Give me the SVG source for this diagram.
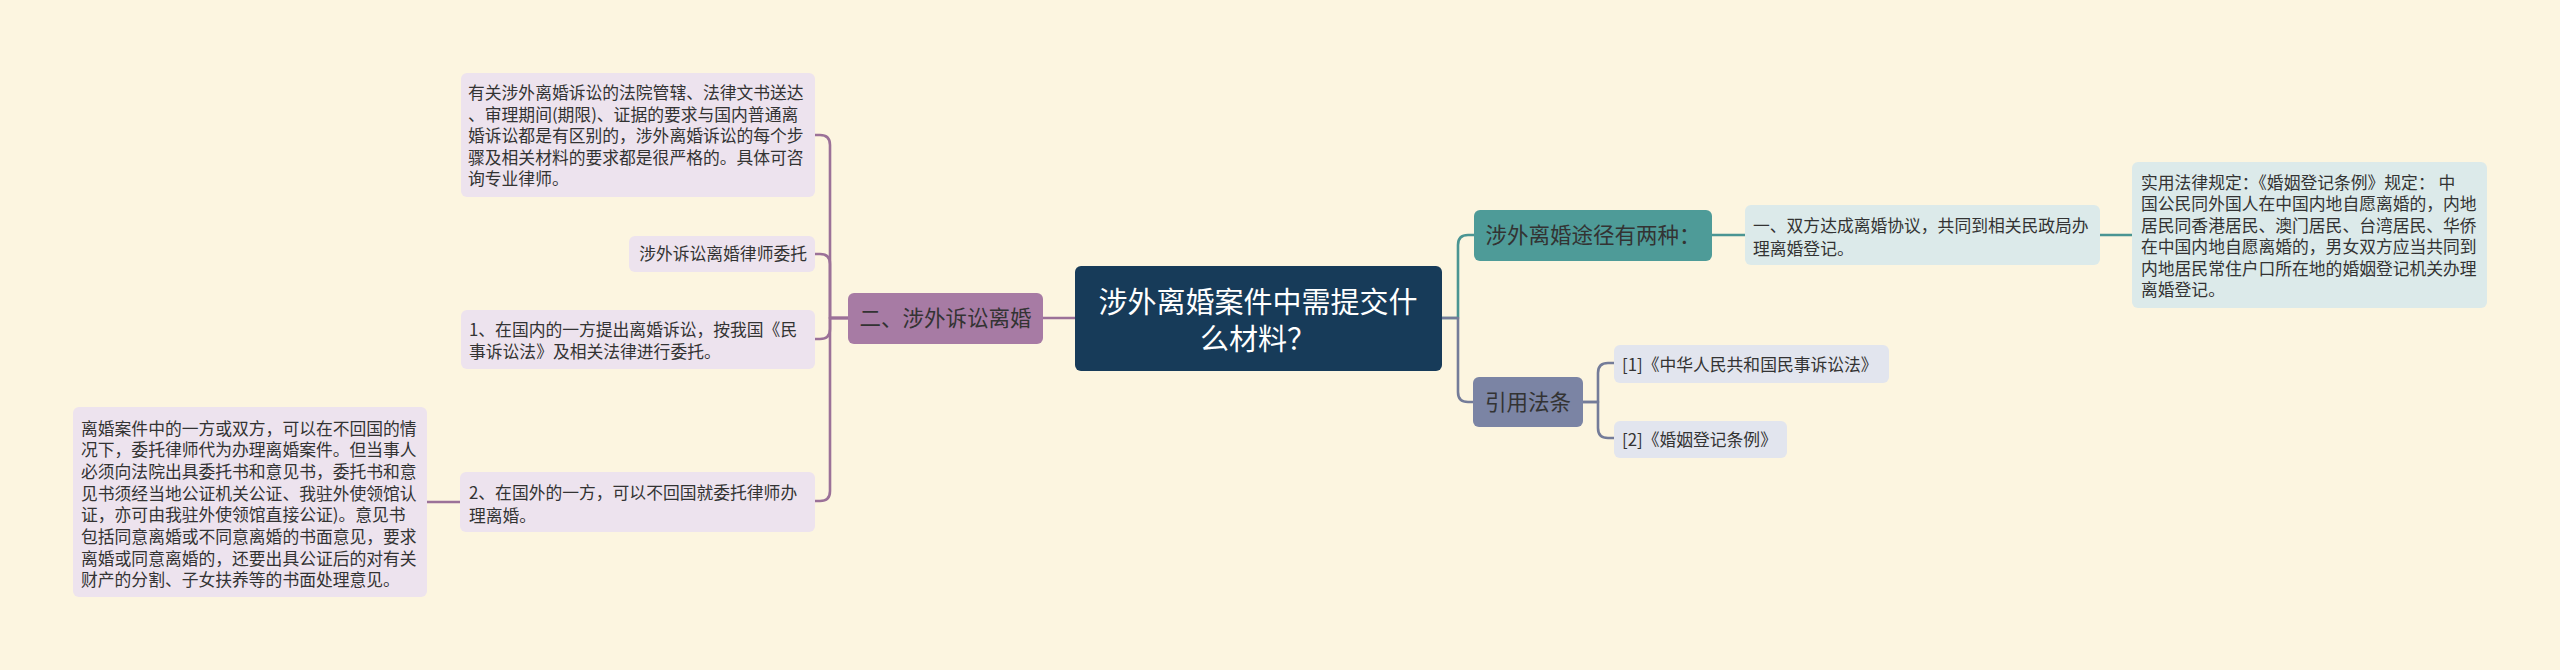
<svg xmlns="http://www.w3.org/2000/svg" width="2560" height="670" viewBox="0 0 2560 670">
<style>
text{font-family:"Noto Sans CJK SC","Noto Sans",sans-serif;fill:#333333;}
.t{font-size:16.8px;}
.b{font-size:21.5px;}
.root{font-size:29px;fill:#ffffff;text-anchor:middle;}
.c{fill:none;stroke-width:2.6;stroke-linecap:round;stroke-linejoin:round;}
.cp{stroke:#9b7198;}
.ct{stroke:#4a9593;}
.cs{stroke:#747c99;}
.np{fill:#ede3ee;}
.nt{fill:#dceaea;}
.ns{fill:#e2e5ee;}
</style>
<rect width="2560" height="670" fill="#fcf5e0"/>
<g id="connectors">
<path class="c cp" d="M1075,318 H1043"/>
<path class="c cp" d="M848,318 H830 V145 Q830,135 820,135 H815"/>
<path class="c cp" d="M848,318 H830 V264 Q830,254 820,254 H815"/>
<path class="c cp" d="M848,318 H830 V329 Q830,339 820,339 H815"/>
<path class="c cp" d="M848,318 H830 V491 Q830,501 820,501 H815"/>
<path class="c cp" d="M460,502 H427"/>
<path class="c ct" d="M1442,318 H1458 V245 Q1458,235 1468,235 H1474"/>
<path class="c cs" d="M1442,318 H1458 V392 Q1458,402 1468,402 H1474"/>
<path class="c ct" d="M1712,235 H1745"/>
<path class="c ct" d="M2100,235 H2132"/>
<path class="c cs" d="M1583,402 H1598 V373 Q1598,363 1608,363 H1614"/>
<path class="c cs" d="M1583,402 H1598 V428 Q1598,438 1608,438 H1614"/>
</g>
<g id="root">
<rect x="1075" y="266" width="367" height="105" rx="6" fill="#173b59"/>
<text class="root" x="1258" y="313">涉外离婚案件中需提交什</text>
<text class="root" x="1258" y="350">么材料？</text>
</g>
<g id="branch-litigation">
<rect x="848" y="293" width="195" height="51" rx="6" fill="#a77ba4"/>
<text class="b" x="945.5" y="326" text-anchor="middle">二、涉外诉讼离婚</text>
</g>
<g id="left-note">
<rect x="461" y="73" width="354" height="124" rx="6" class="np"/>
<text class="t" x="468" y="99">有关涉外离婚诉讼的法院管辖、法律文书送达</text>
<text class="t" x="468" y="120.5">、审理期间(期限)、证据的要求与国内普通离</text>
<text class="t" x="468" y="142">婚诉讼都是有区别的，涉外离婚诉讼的每个步</text>
<text class="t" x="468" y="163.5">骤及相关材料的要求都是很严格的。具体可咨</text>
<text class="t" x="468" y="185">询专业律师。</text>
</g>
<g id="left-lawyer">
<rect x="629" y="236" width="186" height="36" rx="6" class="np"/>
<text class="t" x="807" y="260" text-anchor="end">涉外诉讼离婚律师委托</text>
</g>
<g id="left-domestic">
<rect x="461" y="310" width="354" height="59" rx="6" class="np"/>
<text class="t" x="469" y="336">1、在国内的一方提出离婚诉讼，按我国《民</text>
<text class="t" x="469" y="358">事诉讼法》及相关法律进行委托。</text>
</g>
<g id="left-abroad">
<rect x="460" y="472" width="355" height="60" rx="6" class="np"/>
<text class="t" x="469" y="499">2、在国外的一方，可以不回国就委托律师办</text>
<text class="t" x="469" y="522">理离婚。</text>
</g>
<g id="left-abroad-detail">
<rect x="73" y="407" width="354" height="190" rx="6" class="np"/>
<text class="t" x="81" y="434.5">离婚案件中的一方或双方，可以在不回国的情</text>
<text class="t" x="81" y="456.2">况下，委托律师代为办理离婚案件。但当事人</text>
<text class="t" x="81" y="477.9">必须向法院出具委托书和意见书，委托书和意</text>
<text class="t" x="81" y="499.6">见书须经当地公证机关公证、我驻外使领馆认</text>
<text class="t" x="81" y="521.3">证，亦可由我驻外使领馆直接公证)。意见书</text>
<text class="t" x="81" y="543">包括同意离婚或不同意离婚的书面意见，要求</text>
<text class="t" x="81" y="564.7">离婚或同意离婚的，还要出具公证后的对有关</text>
<text class="t" x="81" y="586.4">财产的分割、子女扶养等的书面处理意见。</text>
</g>
<g id="branch-ways">
<rect x="1474" y="210" width="238" height="51" rx="6" fill="#4e9b98"/>
<text class="b" x="1593" y="243" text-anchor="middle">涉外离婚途径有两种：</text>
</g>
<g id="ways-agreement">
<rect x="1745" y="205" width="355" height="60" rx="6" class="nt"/>
<text class="t" x="1753" y="232">一、双方达成离婚协议，共同到相关民政局办</text>
<text class="t" x="1753" y="254.5">理离婚登记。</text>
</g>
<g id="ways-law">
<rect x="2132" y="162" width="355" height="146" rx="6" class="nt"/>
<text class="t" x="2141" y="188.5">实用法律规定：《婚姻登记条例》规定： 中</text>
<text class="t" x="2141" y="210">国公民同外国人在中国内地自愿离婚的，内地</text>
<text class="t" x="2141" y="231.5">居民同香港居民、澳门居民、台湾居民、华侨</text>
<text class="t" x="2141" y="253">在中国内地自愿离婚的，男女双方应当共同到</text>
<text class="t" x="2141" y="274.5">内地居民常住户口所在地的婚姻登记机关办理</text>
<text class="t" x="2141" y="296">离婚登记。</text>
</g>
<g id="branch-laws">
<rect x="1473" y="377" width="110" height="50" rx="6" fill="#7b84a4"/>
<text class="b" x="1528" y="410" text-anchor="middle">引用法条</text>
</g>
<g id="law-1">
<rect x="1614" y="345" width="275" height="38" rx="6" class="ns"/>
<text class="t" x="1622" y="371">[1]《中华人民共和国民事诉讼法》</text>
</g>
<g id="law-2">
<rect x="1614" y="421" width="173" height="37" rx="6" class="ns"/>
<text class="t" x="1622" y="446">[2]《婚姻登记条例》</text>
</g>
</svg>
